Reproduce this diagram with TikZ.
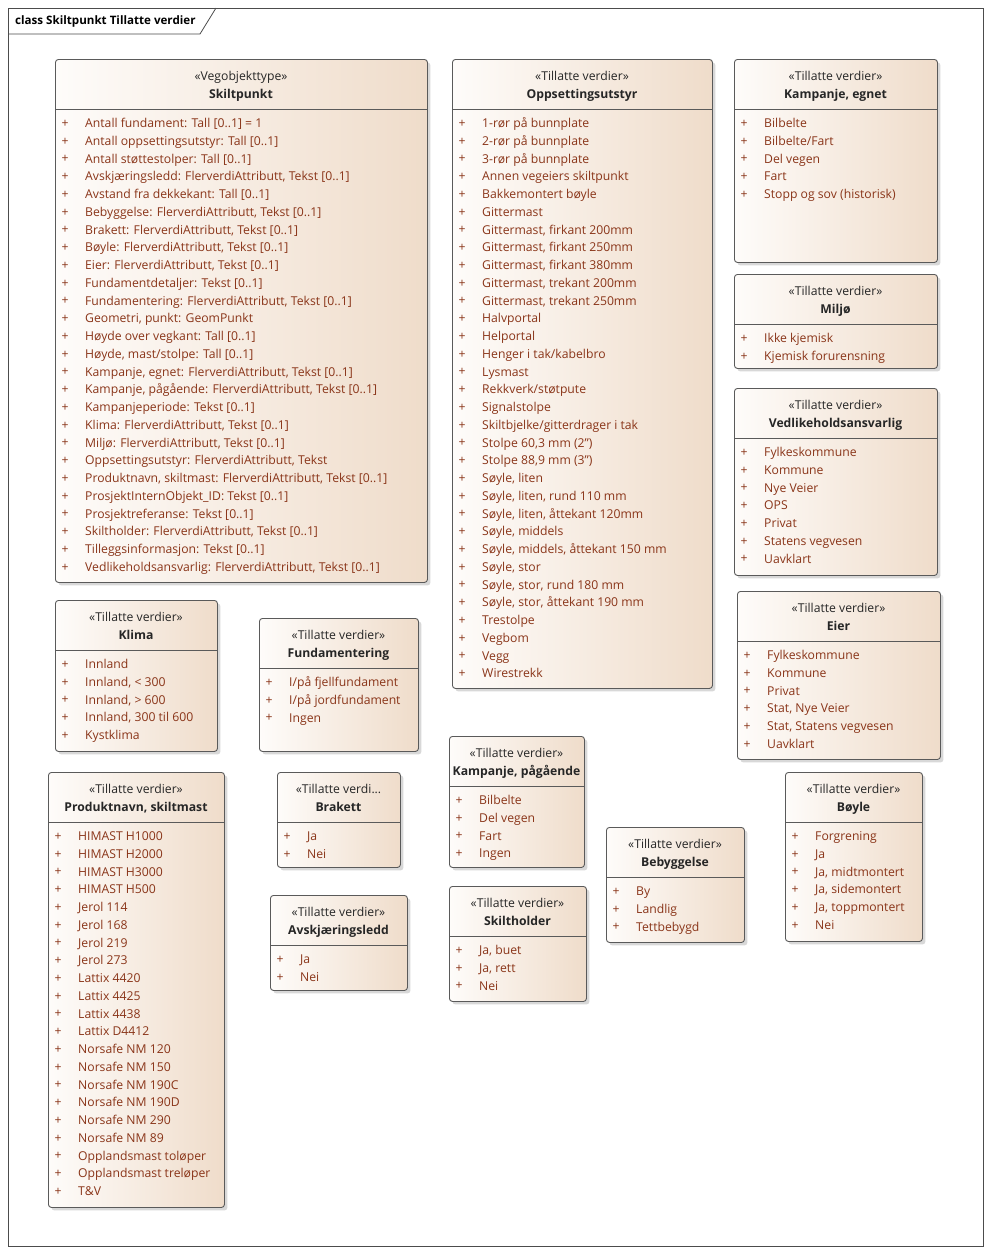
\documentclass[tikz,border=0pt]{standalone}
\usepackage{fontspec}
\setmainfont{Open Sans}
\usetikzlibrary{shadows}

\definecolor{kant}{HTML}{5A5A5A}
\definecolor{lys}{HTML}{FEFCFA}
\definecolor{moerk}{HTML}{EFDCCA}
\definecolor{verdifarge}{HTML}{8A3519}
\definecolor{tekstfarge}{HTML}{262626}

\tikzset{
klasseboks/.style={draw=kant, line width=0.9pt, rounded corners=3pt,
 left color=lys, right color=moerk, anchor=north west, inner sep=0pt,
 drop shadow={shadow xshift=3pt, shadow yshift=-3pt, fill=black!30}},
skille/.style={draw=kant, line width=0.9pt},
stereo/.style={inner sep=0pt, text=tekstfarge, text height=9pt, text depth=3pt,
 font=\fontsize{12.2}{14}\selectfont},
navn/.style={inner sep=0pt, text=tekstfarge, text height=9pt, text depth=3pt,
 font=\fontsize{12.2}{14}\selectfont\bfseries},
pluss/.style={inner sep=0pt, text=verdifarge, text height=8pt, text depth=2pt,
 font=\fontsize{12.2}{14}\selectfont},
verdi/.style={anchor=west, inner sep=0pt, text=verdifarge, text height=9.5pt,
 text depth=3pt, font=\fontsize{12.2}{14}\selectfont},
ramme/.style={draw=black!70, line width=0.8pt}
}

\newcommand{\klasse}[8]{%
\node[klasseboks, minimum width=#4pt-#2pt, minimum height=#5pt-#3pt] (#1) at (#2,#3) {};
\draw[skille] (#2,#3+50) -- (#4,#3+50);
\node[stereo] (#1-st) at ({(#2+#4)/2},#3+18) {#6};
\node[navn] (#1-navn) at ({(#2+#4)/2},#3+36.5) {#7};
\foreach \tekst [count=\n] in {#8} {
\node[pluss] (#1-p\n) at (#2+10,#3+47.5+17.75*\n) {+};
\node[verdi] (#1-v\n) at (#2+30,#3+47.5+17.75*\n) {\tekst};
}}

\begin{document}
\begin{tikzpicture}[x=1pt,y=-1pt]
\useasboundingbox[fill=white] (0,0) rectangle (991,1254);
\draw[ramme] (8,8) rectangle (983,1246);
\draw[ramme] (8,34) -- (200,34) -- (216,8);
\node[anchor=west, inner sep=0pt, font=\fontsize{11.6}{13}\selectfont\bfseries] (tittel) at (15,21) {class Skiltpunkt Tillatte verdier};

\klasse{skiltpunkt}{55}{59}{427}{582}{«Vegobjekttype»}{Skiltpunkt}{
Antall fundament: Tall [0..1] = 1,
Antall oppsettingsutstyr: Tall [0..1],
Antall støttestolper: Tall [0..1],
{Avskjæringsledd: FlerverdiAttributt, Tekst [0..1]},
Avstand fra dekkekant: Tall [0..1],
{Bebyggelse: FlerverdiAttributt, Tekst [0..1]},
{Brakett: FlerverdiAttributt, Tekst [0..1]},
{Bøyle: FlerverdiAttributt, Tekst [0..1]},
{Eier: FlerverdiAttributt, Tekst [0..1]},
Fundamentdetaljer: Tekst [0..1],
{Fundamentering: FlerverdiAttributt, Tekst [0..1]},
{Geometri, punkt: GeomPunkt},
Høyde over vegkant: Tall [0..1],
{Høyde, mast/stolpe: Tall [0..1]},
{Kampanje, egnet: FlerverdiAttributt, Tekst [0..1]},
{Kampanje, pågående: FlerverdiAttributt, Tekst [0..1]},
Kampanjeperiode: Tekst [0..1],
{Klima: FlerverdiAttributt, Tekst [0..1]},
{Miljø: FlerverdiAttributt, Tekst [0..1]},
{Oppsettingsutstyr: FlerverdiAttributt, Tekst},
{Produktnavn, skiltmast: FlerverdiAttributt, Tekst [0..1]},
ProsjektInternObjekt\_ID: Tekst [0..1],
Prosjektreferanse: Tekst [0..1],
{Skiltholder: FlerverdiAttributt, Tekst [0..1]},
Tilleggsinformasjon: Tekst [0..1],
{Vedlikeholdsansvarlig: FlerverdiAttributt, Tekst [0..1]}}

\klasse{oppsettingsutstyr}{452}{59}{712}{688}{«Tillatte verdier»}{Oppsettingsutstyr}{
1-rør på bunnplate, 2-rør på bunnplate, 3-rør på bunnplate,
Annen vegeiers skiltpunkt, Bakkemontert bøyle, Gittermast,
{Gittermast, firkant 200mm}, {Gittermast, firkant 250mm},
{Gittermast, firkant 380mm}, {Gittermast, trekant 200mm},
{Gittermast, trekant 250mm}, Halvportal, Helportal,
Henger i tak/kabelbro, Lysmast, Rekkverk/støtpute, Signalstolpe,
Skiltbjelke/gitterdrager i tak, {Stolpe 60,3 mm (2")}, {Stolpe 88,9 mm (3")},
{Søyle, liten}, {Søyle, liten, rund 110 mm}, {Søyle, liten, åttekant 120mm},
{Søyle, middels}, {Søyle, middels, åttekant 150 mm}, {Søyle, stor},
{Søyle, stor, rund 180 mm}, {Søyle, stor, åttekant 190 mm},
Trestolpe, Vegbom, Vegg, Wirestrekk}

\klasse{kampanjeegnet}{734}{59}{937}{262}{«Tillatte verdier»}{Kampanje, egnet}{
Bilbelte, Bilbelte/Fart, Del vegen, Fart, Stopp og sov (historisk)}

\klasse{miljo}{734}{274}{937}{368}{«Tillatte verdier»}{Miljø}{
Ikke kjemisk, Kjemisk forurensning}

\klasse{vedlikehold}{734}{388}{937}{575}{«Tillatte verdier»}{Vedlikeholdsansvarlig}{
Fylkeskommune, Kommune, Nye Veier, OPS, Privat, Statens vegvesen, Uavklart}

\klasse{eier}{737}{591}{940}{759}{«Tillatte verdier»}{Eier}{
Fylkeskommune, Kommune, Privat, {Stat, Nye Veier}, {Stat, Statens vegvesen}, Uavklart}

\klasse{klima}{55}{600}{217}{751}{«Tillatte verdier»}{Klima}{
Innland, {Innland, < 300}, {Innland, > 600}, {Innland, 300 til 600}, Kystklima}

\klasse{fundamentering}{259}{618}{418}{751}{«Tillatte verdier»}{Fundamentering}{
I/på fjellfundament, I/på jordfundament, Ingen}

\klasse{produktnavn}{48}{772}{224}{1207}{«Tillatte verdier»}{Produktnavn, skiltmast}{
HIMAST H1000, HIMAST H2000, HIMAST H3000, HIMAST H500,
Jerol 114, Jerol 168, Jerol 219, Jerol 273,
Lattix 4420, Lattix 4425, Lattix 4438, Lattix D4412,
Norsafe NM 120, Norsafe NM 150, Norsafe NM 190C, Norsafe NM 190D,
Norsafe NM 290, Norsafe NM 89, Opplandsmast toløper, Opplandsmast treløper, T\&V}

\klasse{brakett}{277}{772}{400}{867}{«Tillatte verdi...}{Brakett}{Ja, Nei}

\klasse{avskjaering}{270}{895}{407}{990}{«Tillatte verdier»}{Avskjæringsledd}{Ja, Nei}

\klasse{kampanjepaagaaende}{449}{736}{584}{867}{«Tillatte verdier»}{Kampanje, pågående}{
Bilbelte, Del vegen, Fart, Ingen}

\klasse{skiltholder}{449}{886}{586}{1001}{«Tillatte verdier»}{Skiltholder}{
{Ja, buet}, {Ja, rett}, Nei}

\klasse{bebyggelse}{606}{827}{744}{942}{«Tillatte verdier»}{Bebyggelse}{
By, Landlig, Tettbebygd}

\klasse{boyle}{785}{772}{922}{941}{«Tillatte verdier»}{Bøyle}{
Forgrening, Ja, {Ja, midtmontert}, {Ja, sidemontert}, {Ja, toppmontert}, Nei}
\end{tikzpicture}
\end{document}
